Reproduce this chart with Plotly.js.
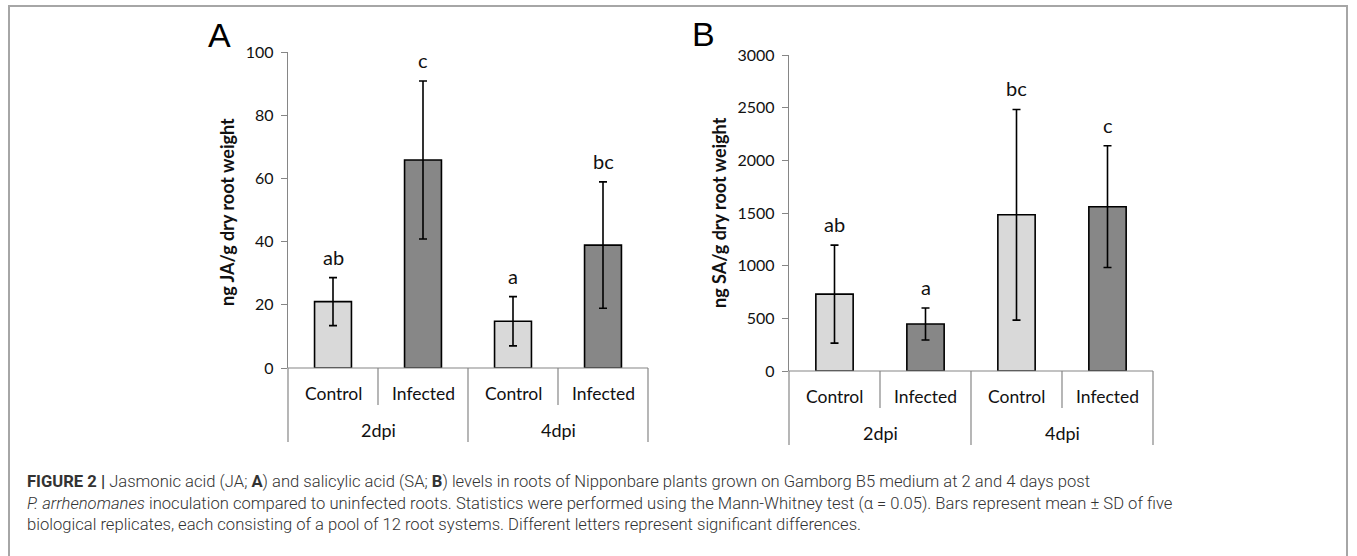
<!DOCTYPE html>
<html>
<head>
<meta charset="utf-8">
<script src="https://cdn.plot.ly/plotly-3.0.1.min.js"></script>
<style>
html,body{margin:0;padding:0;background:#fff;}
#chart{width:1357px;height:556px;}
</style>
</head>
<body>
<div id="chart"></div>
<script>
// ---- data ----
const categories = ["Control", "Infected", "Control", "Infected"];
const groups = ["2dpi", "4dpi"];
const jaMean = [21, 65.8, 14.8, 38.9];
const jaSD = [7.6, 25, 7.8, 20];
const jaLetters = ["ab", "c", "a", "bc"];
const saMean = [730, 446, 1483, 1560];
const saSD = [465, 152, 1000, 578];
const saLetters = ["ab", "a", "bc", "c"];
const barColors = ["#d9d9d9", "#878787", "#d9d9d9", "#878787"];
const jaTitle = "ng JA/g dry root weight";
const saTitle = "ng SA/g dry root weight";
const caption = "<b>FIGURE 2 |</b> Jasmonic acid (JA; <b>A</b>) and salicylic acid (SA; <b>B</b>) levels in roots of Nipponbare plants grown on Gamborg B5 medium at 2 and 4 days post<br><i>P. arrhenomanes</i> inoculation compared to uninfected roots. Statistics were performed using the Mann-Whitney test (α = 0.05). Bars represent mean ± SD of five<br>biological replicates, each consisting of a pool of 12 root systems. Different letters represent significant differences.";

const W = 1357, H = 556;
const idx = categories.map((c, i) => i);
const chartFont = "Lato, 'Open Sans', sans-serif";
const axisGray = "#868686";

const domA = {x: [288 / W, 648 / W], y: [1 - 368 / H, 1 - 52 / H]};
const domB = {x: [789 / W, 1153 / W], y: [1 - 371 / H, 1 - 55 / H]};

function barTrace(means, sds, xa, ya) {
  return {
    type: "bar", x: idx, y: means, xaxis: xa, yaxis: ya,
    width: 0.41,
    marker: {color: barColors, line: {color: "#000", width: 1.6}},
    error_y: {type: "data", array: sds, visible: true, color: "#000", thickness: 1.6, width: 4},
    hoverinfo: "skip", showlegend: false
  };
}

const data = [barTrace(jaMean, jaSD, "x", "y"), barTrace(saMean, saSD, "x2", "y2")];

function xAxis(domain, anchor) {
  return {
    domain: domain, anchor: anchor, range: [-0.5, categories.length - 0.5],
    showticklabels: false, ticks: "", showgrid: false, zeroline: false,
    showline: false, fixedrange: true
  };
}
function yAxis(domain, anchor, range, dtick) {
  return {
    domain: domain, anchor: anchor, range: range, dtick: dtick,
    ticks: "outside", ticklen: 6, tickcolor: axisGray, tickwidth: 1,
    showline: true, linecolor: axisGray, linewidth: 1.2,
    showgrid: false, zeroline: false, ticklabelstandoff: 4,
    tickfont: {family: chartFont, size: 16, color: "#111"}, fixedrange: true
  };
}

const annotations = [];
const shapes = [];

function panelDecor(xa, ya, dom, means, sds, letters) {
  idx.forEach(i => {
    annotations.push({xref: xa, yref: ya, x: i, y: means[i] + sds[i], yshift: 21, xanchor: "center",
      text: letters[i], showarrow: false, font: {family: chartFont, size: 20, color: "#111"}});
    annotations.push({xref: xa, yref: ya, x: i, y: 0, yshift: -25, xanchor: "center",
      text: categories[i], showarrow: false, font: {family: chartFont, size: 17.5, color: "#111"}});
  });
  groups.forEach((g, gi) => {
    annotations.push({xref: xa, yref: ya, x: gi * 2 + 0.5, y: 0, yshift: -62, xanchor: "center",
      text: g, showarrow: false, font: {family: chartFont, size: 18, color: "#111"}});
  });
  const n = categories.length;
  const x0 = dom.x[0], x1 = dom.x[1], yb = dom.y[0];
  // category axis base line
  shapes.push({type: "line", xref: "paper", yref: "paper", x0: x0, x1: x1, y0: yb, y1: yb,
    line: {color: axisGray, width: 1.2}});
  // dividers between categories / groups
  for (let k = 0; k <= n; k++) {
    const xv = x0 + (x1 - x0) * k / n;
    const long = (k % 2 === 0);
    shapes.push({type: "line", xref: "paper", yref: "paper",
      x0: xv, x1: xv, y0: yb, y1: yb - (long ? 74 : 37) / H,
      line: {color: axisGray, width: 1.2}});
  }
}
panelDecor("x", "y", domA, jaMean, jaSD, jaLetters);
panelDecor("x2", "y2", domB, saMean, saSD, saLetters);

// panel letters
annotations.push({xref: "paper", yref: "paper", x: 220 / W, y: 1 - 35 / H, xanchor: "center", yanchor: "middle",
  text: "A", showarrow: false, font: {family: "Liberation Sans, Arial, sans-serif", size: 34, color: "#000"}});
annotations.push({xref: "paper", yref: "paper", x: 703 / W, y: 1 - 34 / H, xanchor: "center", yanchor: "middle",
  text: "B", showarrow: false, font: {family: "Liberation Sans, Arial, sans-serif", size: 34, color: "#000"}});
// y-axis titles
annotations.push({xref: "paper", yref: "paper", x: 227 / W, y: 1 - 212 / H, xanchor: "center", yanchor: "middle",
  text: "<b>" + jaTitle + "</b>", textangle: -90, showarrow: false,
  font: {family: chartFont, size: 18, color: "#111"}});
annotations.push({xref: "paper", yref: "paper", x: 719 / W, y: 1 - 213 / H, xanchor: "center", yanchor: "middle",
  text: "<b>" + saTitle + "</b>", textangle: -90, showarrow: false,
  font: {family: chartFont, size: 18, color: "#111"}});
// caption
annotations.push({xref: "paper", yref: "paper", x: 25 / W, y: 1 - 470 / H, xanchor: "left", yanchor: "top",
  align: "left", text: caption, showarrow: false,
  font: {family: "Roboto, 'Liberation Sans', sans-serif", size: 16.6, color: "#333", weight: 300}});

// figure frame
shapes.push({type: "rect", xref: "paper", yref: "paper", x0: 9 / W, x1: 1347 / W, y0: -0.1, y1: 1 - 6 / H,
  line: {color: "#a6a6a6", width: 2}, fillcolor: "rgba(0,0,0,0)"});

const layout = {
  width: W, height: H,
  margin: {l: 0, r: 0, t: 0, b: 0},
  paper_bgcolor: "#fff", plot_bgcolor: "rgba(0,0,0,0)",
  xaxis: xAxis(domA.x, "y"),
  yaxis: yAxis(domA.y, "x", [0, 100], 20),
  xaxis2: xAxis(domB.x, "y2"),
  yaxis2: yAxis(domB.y, "x2", [0, 3000], 500),
  annotations: annotations,
  shapes: shapes
};

Plotly.newPlot("chart", data, layout, {displayModeBar: false, staticPlot: true});
</script>
</body>
</html>
